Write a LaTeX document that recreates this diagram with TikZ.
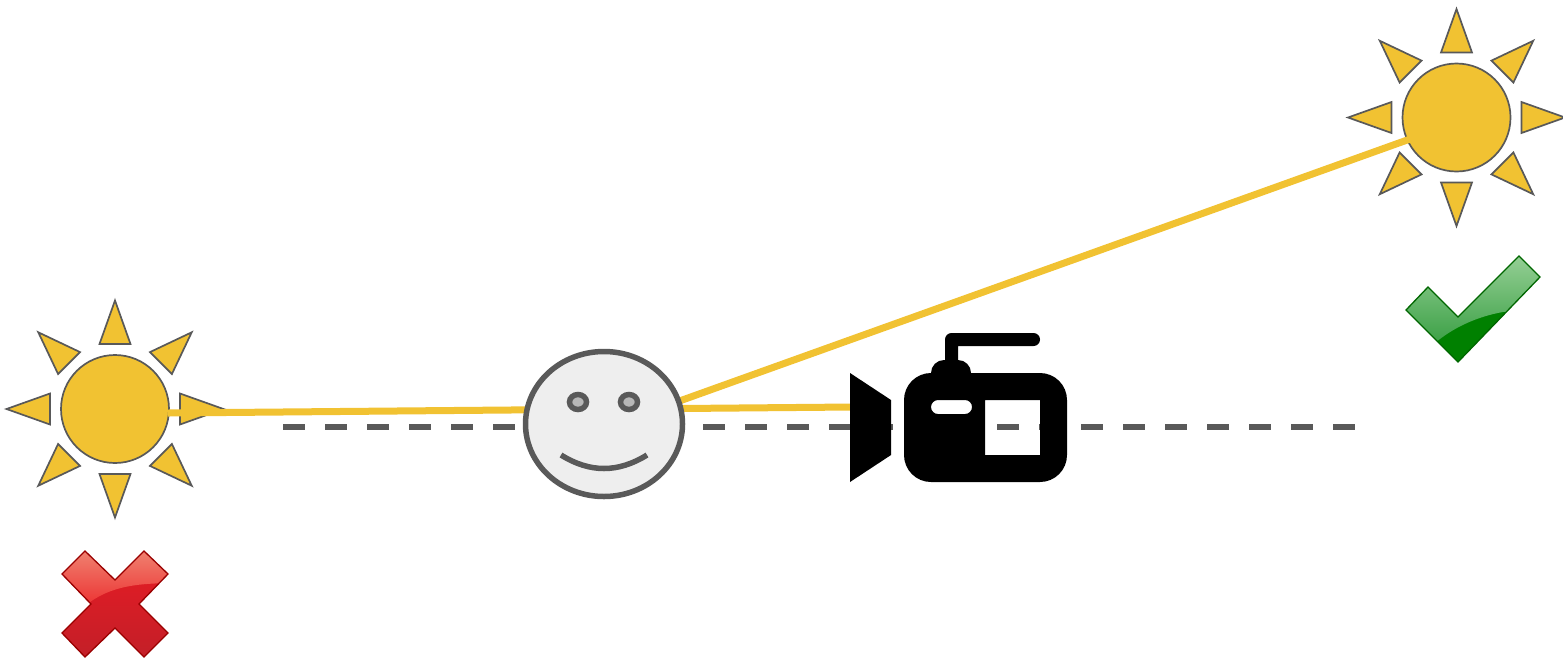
\documentclass[tikz,border=0pt]{standalone}
\usepackage{xcolor}
\usetikzlibrary{shapes.geometric}
\definecolor{sunyellow}{HTML}{F1C232}
\definecolor{edgegrey}{HTML}{595959}
\definecolor{facegrey}{HTML}{EEEEEE}
\definecolor{eyegrey}{HTML}{B7B7B7}
\definecolor{crosstop}{HTML}{F08573}
\definecolor{crossmid}{HTML}{EC3232}
\definecolor{crosslow}{HTML}{E81C24}
\definecolor{crossend}{HTML}{C21F28}
\definecolor{ticktop}{HTML}{96D096}
\definecolor{tickmid}{HTML}{3CA046}
\tikzset{
  suncore/.style={circle, draw=edgegrey, fill=sunyellow, line width=1.7*0.75pt,
                  minimum size=108*0.75pt, inner sep=0pt},
  rayshape/.style={draw=edgegrey, fill=sunyellow, line width=1.7*0.75pt, line join=miter},
  sightline/.style={draw=sunyellow, line width=7*0.75pt},
  baseline/.style={draw=edgegrey, line width=6*0.75pt, dash pattern=on 22*0.75pt off 20*0.75pt},
  headshape/.style={ellipse, draw=edgegrey, fill=facegrey, line width=5.5*0.75pt,
                    minimum width=157*0.75pt, minimum height=145*0.75pt, inner sep=0pt},
  eyeshape/.style={ellipse, draw=edgegrey, fill=eyegrey, line width=5.5*0.75pt,
                   minimum width=17*0.75pt, minimum height=15*0.75pt, inner sep=0pt},
  smileline/.style={draw=edgegrey, line width=5.5*0.75pt},
  crossedge/.style={draw=red!60!black, line width=1.3*0.75pt, line join=miter},
  tickedge/.style={draw=green!40!black, line width=1.3*0.75pt, line join=miter}
}
\newcommand{\sunrays}[1]{
  \foreach \ang in {0,45,...,315}
    \draw[rayshape, shift={(#1)}, rotate=\ang]
      (0,-108.5) -- (15.5,-65) -- (-15.5,-65) -- cycle;
}
\begin{document}
\begin{tikzpicture}[x=0.75pt, y=-0.75pt]
  \useasboundingbox (0,0) rectangle (1563,658);

  \node[suncore] (sunleft)  at (115,409) {};
  \node[suncore] (sunright) at (1456.5,117.5) {};
  \sunrays{sunleft.center}
  \sunrays{sunright.center}

  \coordinate (rayleft)  at (168,413);
  \coordinate (rayright) at (1410,139);
  \coordinate (lensin)   at (852,407);
  \coordinate (headin)   at (660,408);
  \coordinate (dashleft)  at (283,427);
  \coordinate (dashright) at (1357,427);

  \draw[baseline]  (dashleft) -- (dashright);
  \draw[sightline] (rayleft)  -- (lensin);
  \draw[sightline] (rayright) -- (headin);

  \node[headshape] (head) at (604,424) {};
  \node[eyeshape]  (eyeleft)  at (578,402) {};
  \node[eyeshape]  (eyeright) at (629,402) {};
  \coordinate (smileleft)  at (561,455);
  \coordinate (smileright) at (647,455);
  \draw[smileline] (smileleft) .. controls (590,473) and (618,473) .. (smileright);

  \fill[black] (850,373) -- (891,400) -- (891,455) -- (850,482) -- cycle;
  \fill[black, even odd rule]
    (931,373) arc[start angle=180, end angle=270, radius=13] -- (945,360) -- (945,339.5)
    arc[start angle=180, end angle=270, radius=6.5] -- (1033.5,333)
    arc[start angle=-90, end angle=90, radius=6.5] -- (958,346) -- (958,360)
    arc[start angle=-90, end angle=0, radius=13] -- (1040,373)
    arc[start angle=-90, end angle=0, radius=27] -- (1067,455)
    arc[start angle=0, end angle=90, radius=27] -- (931,482)
    arc[start angle=90, end angle=180, radius=27] -- (904,400)
    arc[start angle=180, end angle=270, radius=27] -- cycle
    (938,400) -- (965,400) arc[start angle=-90, end angle=90, radius=7] -- (938,414)
    arc[start angle=90, end angle=270, radius=7] -- cycle
    (985,400) rectangle (1040,455);

  \draw[crossedge, path picture={
      \shade[top color=crosslow, middle color=crosslow, bottom color=crossend] (50,575) rectangle (180,660);
      \shade[top color=crosstop, bottom color=crossmid]
        (50,548) -- (180,548) -- (180,583) .. controls (140,583) and (110,585) .. (85,606) -- (50,606) -- cycle;
    }]
    (85,551) -- (115,580) -- (144,551) -- (168,574) -- (139,604) -- (168,633) -- (144,657)
    -- (115,628) -- (85,657) -- (62,633) -- (91,604) -- (62,574) -- cycle;

  \draw[tickedge, path picture={
      \fill[green!50!black] (1400,250) rectangle (1545,365);
      \shade[top color=ticktop, bottom color=tickmid]
        (1400,254) -- (1545,254) -- (1545,310) -- (1503,312) .. controls (1480,316) and (1455,326) .. (1435,343) -- (1400,343) -- cycle;
    }]
    (1519,256) -- (1540,277) -- (1458,362) -- (1406,310) -- (1428,287) -- (1458,317) -- cycle;
\end{tikzpicture}
\end{document}
